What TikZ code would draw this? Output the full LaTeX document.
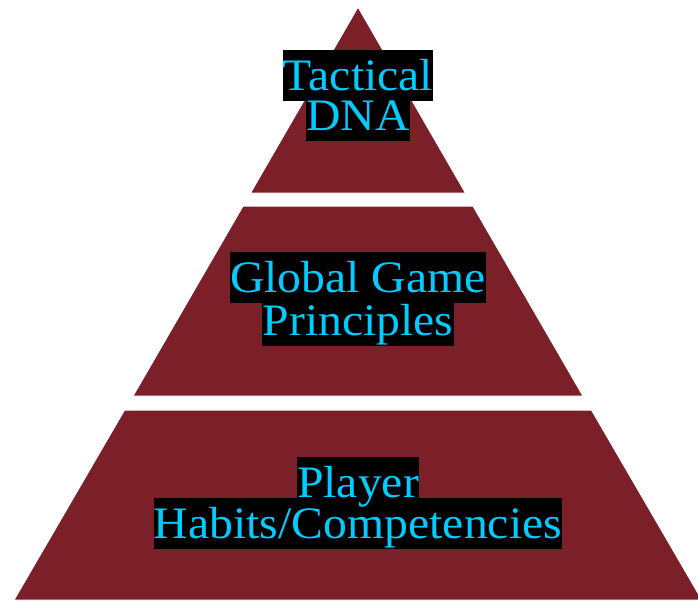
\documentclass[tikz,border=0pt]{standalone}
\usepackage{fontspec}
\setmainfont{Liberation Serif}[FakeStretch=1.06]
\definecolor{tier}{RGB}{123,32,41}
\definecolor{label}{RGB}{0,204,255}
\pgfdeclarelayer{tiers}
\pgfdeclarelayer{boxes}
\pgfsetlayers{tiers,boxes,main}
\begin{document}
\begin{tikzpicture}[x=1pt,y=-1pt,
  tierfill/.style={fill=tier,draw=white,line width=1pt},
  hltext/.style={inner xsep=0pt,inner ysep=0pt,
    text height=32pt,text depth=8pt,anchor=base,text=label,
    font=\fontsize{45}{45}\selectfont},
  hlbox/.style={fill=black}]
\useasboundingbox (0,0) rectangle (698,600);
% labels
\node[hltext] (t1) at (358,90) {Tactical\ };
\node[hltext] (t2) at (358,130) {DNA};
\node[hltext] (m1) at (358,292) {Global Game\ };
\node[hltext] (m2) at (358,335) {Principles};
\node[hltext] (b1) at (358,497) {Player\ };
\node[hltext] (b2) at (358,538) {Habits/Competencies};
% highlight boxes
\begin{pgfonlayer}{boxes}
\foreach \n in {t1,t2,m1,m2,b1,b2}
  \fill[hlbox] ([yshift=8pt]\n.north west) rectangle ([yshift=-3pt]\n.south east);
\end{pgfonlayer}
% tiers
\begin{pgfonlayer}{tiers}
\clip (0,0) rectangle (698,600);
\path[tierfill] (358,7) -- (465.5,193) -- (250.5,193) -- cycle;
\path[tierfill] (243,206) -- (473,206) -- (583,396) -- (133,396) -- cycle;
\path[tierfill] (124.5,410) -- (591.5,410) -- (702,600) -- (14,600) -- cycle;
\end{pgfonlayer}
\end{tikzpicture}
\end{document}
